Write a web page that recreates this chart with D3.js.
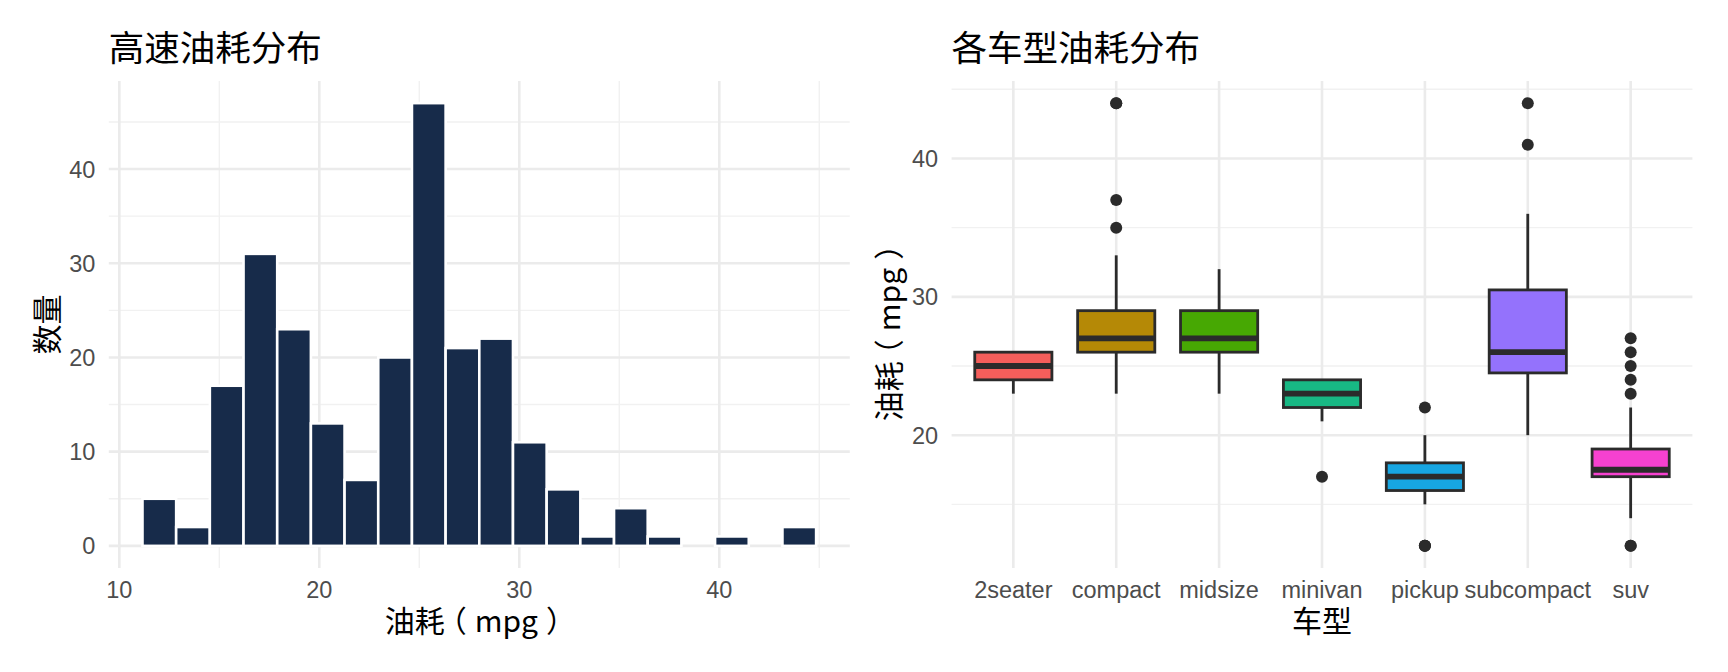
<!DOCTYPE html>
<html>
<head>
<meta charset="utf-8">
<script src="https://cdn.jsdelivr.net/npm/d3@7"></script>
<style>
  html, body { margin: 0; padding: 0; background: #fff; }
  svg { display: block; }
</style>
</head>
<body>
<svg id="chart" width="1728" height="672"></svg>
<script>
// ---------------- DATA ----------------
// Histogram of highway mpg (20 bins)
const binEdges = [11.158, 12.842, 14.526, 16.211, 17.895, 19.579, 21.263, 22.947, 24.632, 26.316,
                  28.000, 29.684, 31.368, 33.053, 34.737, 36.421, 38.105, 39.789, 41.474, 43.158, 44.842];
const binCounts = [5, 2, 17, 31, 23, 13, 7, 20, 47, 21, 22, 11, 6, 1, 4, 1, 0, 1, 0, 2];
const histXTicks = [10, 20, 30, 40];
const histXMinor = [15, 25, 35, 45];
const histYTicks = [0, 10, 20, 30, 40];
const histYMinor = [5, 15, 25, 35, 45];

// Boxplot of highway mpg by class
const classes   = ["2seater", "compact", "midsize", "minivan", "pickup", "subcompact", "suv"];
const whiskLow  = [23, 23, 23, 21, 15, 20, 14];
const q1        = [24, 26, 26, 22, 16, 24.5, 17];
const median    = [25, 27, 27, 23, 17, 26, 17.5];
const q3        = [26, 29, 29, 24, 18, 30.5, 19];
const whiskHigh = [26, 33, 32, 24, 20, 36, 22];
const outliers  = [[], [35, 37, 44, 44], [], [17], [12, 12, 12, 22], [41, 44], [12, 12, 23, 24, 25, 26, 27]];
const boxColors = ["#F45E5B", "#B58906", "#47A803", "#18B884", "#17A6E2", "#9472FC", "#F641D0"];
const boxYTicks = [20, 30, 40];
const boxYMinor = [15, 25, 35, 45];

// ---------------- STYLE ----------------
const gridMajor = "#EBEBEB", gridMinor = "#F1F1F1";
const tickFont = "'Liberation Sans', Arial, sans-serif";
const cjkFont = "'Noto Sans CJK SC', 'Noto Sans', sans-serif";
const tickColor = "#4D4D4D";
const tickSize = 23.5, axisTitleSize = 30, titleSize = 35.5;

const svg = d3.select("#chart");

function panelGrid(g, x, y, xMajor, xMinor, yMajor, yMinor, x0, x1, y0, y1) {
  const gg = g.append("g");
  gg.selectAll(".ymin").data(yMinor).join("line")
    .attr("x1", x0).attr("x2", x1).attr("y1", d => y(d)).attr("y2", d => y(d))
    .attr("stroke", gridMinor).attr("stroke-width", 1.4);
  gg.selectAll(".xmin").data(xMinor).join("line")
    .attr("y1", y0).attr("y2", y1).attr("x1", d => x(d)).attr("x2", d => x(d))
    .attr("stroke", gridMinor).attr("stroke-width", 1.4);
  gg.selectAll(".ymaj").data(yMajor).join("line")
    .attr("x1", x0).attr("x2", x1).attr("y1", d => y(d)).attr("y2", d => y(d))
    .attr("stroke", gridMajor).attr("stroke-width", 2.6);
  gg.selectAll(".xmaj").data(xMajor).join("line")
    .attr("y1", y0).attr("y2", y1).attr("x1", d => x(d)).attr("x2", d => x(d))
    .attr("stroke", gridMajor).attr("stroke-width", 2.6);
}

// "油耗（mpg）" with the full-width brackets centred in their boxes
function mpgLabel(textSel) {
  textSel.append("tspan").text("油耗");
  textSel.append("tspan").attr("dx", -8).text("（");
  textSel.append("tspan").attr("dx", 8).text("mpg");
  textSel.append("tspan").attr("dx", 8).text("）");
}

const panelTop = 81, panelBottom = 568;
const xTickBaseline = 598, xTitleBaseline = 631.5;

// ---------------- LEFT: HISTOGRAM ----------------
{
  const x0 = 108.8, x1 = 849.8;
  const span = binEdges[binEdges.length - 1] - binEdges[0];
  const x = d3.scaleLinear()
    .domain([binEdges[0] - 0.05 * span, binEdges[binEdges.length - 1] + 0.05 * span])
    .range([x0, x1]);
  const maxC = d3.max(binCounts);
  const y = d3.scaleLinear().domain([-0.05 * maxC, maxC * 1.05]).range([panelBottom, panelTop]);

  const g = svg.append("g");
  panelGrid(g, x, y, histXTicks, histXMinor, histYTicks, histYMinor, x0, x1, panelTop, panelBottom);

  const bins = binCounts.map((c, i) => ({ a: binEdges[i], b: binEdges[i + 1], c }));
  g.selectAll("rect.bar").data(bins).join("rect")
    .attr("x", d => x(d.a)).attr("width", d => x(d.b) - x(d.a))
    .attr("y", d => y(d.c)).attr("height", d => y(0) - y(d.c))
    .attr("fill", "#172B4A").attr("stroke", "#ffffff").attr("stroke-width", 2.6);

  g.selectAll("text.yt").data(histYTicks).join("text")
    .attr("x", x0 - 13.5).attr("y", d => y(d)).attr("dy", "0.36em")
    .attr("text-anchor", "end").attr("font-family", tickFont).attr("font-size", tickSize)
    .attr("fill", tickColor).text(d => d);
  g.selectAll("text.xt").data(histXTicks).join("text")
    .attr("x", d => x(d)).attr("y", xTickBaseline)
    .attr("text-anchor", "middle").attr("font-family", tickFont).attr("font-size", tickSize)
    .attr("fill", tickColor).text(d => d);

  g.append("text").attr("x", (x0 + x1) / 2 + 1).attr("y", xTitleBaseline)
    .attr("text-anchor", "middle").attr("font-family", cjkFont).attr("font-size", axisTitleSize)
    .attr("fill", "#000").call(mpgLabel);
  g.append("text").attr("transform", `translate(58,${(panelTop + panelBottom) / 2}) rotate(-90)`)
    .attr("text-anchor", "middle").attr("font-family", cjkFont).attr("font-size", axisTitleSize)
    .attr("fill", "#000").text("数量");
  g.append("text").attr("x", x0).attr("y", 60.5)
    .attr("font-family", cjkFont).attr("font-size", titleSize)
    .attr("fill", "#000").text("高速油耗分布");
}

// ---------------- RIGHT: BOXPLOT ----------------
{
  const x0 = 951.6, x1 = 1692.4;
  const allVals = whiskLow.concat(whiskHigh, outliers.flat());
  const lo = d3.min(allVals), hi = d3.max(allVals);
  const pad = (hi - lo) * 0.05;
  const y = d3.scaleLinear().domain([lo - pad, hi + pad]).range([panelBottom, panelTop]);
  const x = d3.scalePoint().domain(classes).range([x0, x1]).padding(0.6);
  const bw = x.step() * 0.75;

  const g = svg.append("g");
  panelGrid(g, x, y, classes, [], boxYTicks, boxYMinor, x0, x1, panelTop, panelBottom);

  const stroke = "#2B2B2B";
  const data = classes.map((c, i) => ({
    c, lo: whiskLow[i], q1: q1[i], med: median[i], q3: q3[i], hi: whiskHigh[i],
    out: outliers[i], col: boxColors[i]
  }));
  const bg = g.selectAll("g.box").data(data).join("g");
  bg.append("line").attr("x1", d => x(d.c)).attr("x2", d => x(d.c))
    .attr("y1", d => y(d.hi)).attr("y2", d => y(d.q3))
    .attr("stroke", stroke).attr("stroke-width", 2.8);
  bg.append("line").attr("x1", d => x(d.c)).attr("x2", d => x(d.c))
    .attr("y1", d => y(d.q1)).attr("y2", d => y(d.lo))
    .attr("stroke", stroke).attr("stroke-width", 2.8);
  bg.append("rect").attr("x", d => x(d.c) - bw / 2).attr("width", bw)
    .attr("y", d => y(d.q3)).attr("height", d => y(d.q1) - y(d.q3))
    .attr("fill", d => d.col).attr("stroke", stroke).attr("stroke-width", 2.8);
  bg.append("line").attr("x1", d => x(d.c) - bw / 2).attr("x2", d => x(d.c) + bw / 2)
    .attr("y1", d => y(d.med)).attr("y2", d => y(d.med))
    .attr("stroke", stroke).attr("stroke-width", 5.8);
  bg.each(function (d) {
    d3.select(this).selectAll("circle").data(d.out).join("circle")
      .attr("cx", x(d.c)).attr("cy", v => y(v)).attr("r", 6)
      .attr("fill", stroke);
  });

  g.selectAll("text.yt").data(boxYTicks).join("text")
    .attr("x", x0 - 13.5).attr("y", d => y(d)).attr("dy", "0.36em")
    .attr("text-anchor", "end").attr("font-family", tickFont).attr("font-size", tickSize)
    .attr("fill", tickColor).text(d => d);
  g.selectAll("text.xt").data(classes).join("text")
    .attr("x", d => x(d)).attr("y", xTickBaseline)
    .attr("text-anchor", "middle").attr("font-family", tickFont).attr("font-size", tickSize)
    .attr("fill", tickColor).text(d => d);

  g.append("text").attr("x", (x0 + x1) / 2).attr("y", xTitleBaseline)
    .attr("text-anchor", "middle").attr("font-family", cjkFont).attr("font-size", axisTitleSize)
    .attr("fill", "#000").text("车型");
  g.append("text").attr("transform", `translate(900,${(panelTop + panelBottom) / 2 + 1}) rotate(-90)`)
    .attr("text-anchor", "middle").attr("font-family", cjkFont).attr("font-size", axisTitleSize)
    .attr("fill", "#000").call(mpgLabel);
  g.append("text").attr("x", x0).attr("y", 60.5)
    .attr("font-family", cjkFont).attr("font-size", titleSize)
    .attr("fill", "#000").text("各车型油耗分布");
}
</script>
</body>
</html>
